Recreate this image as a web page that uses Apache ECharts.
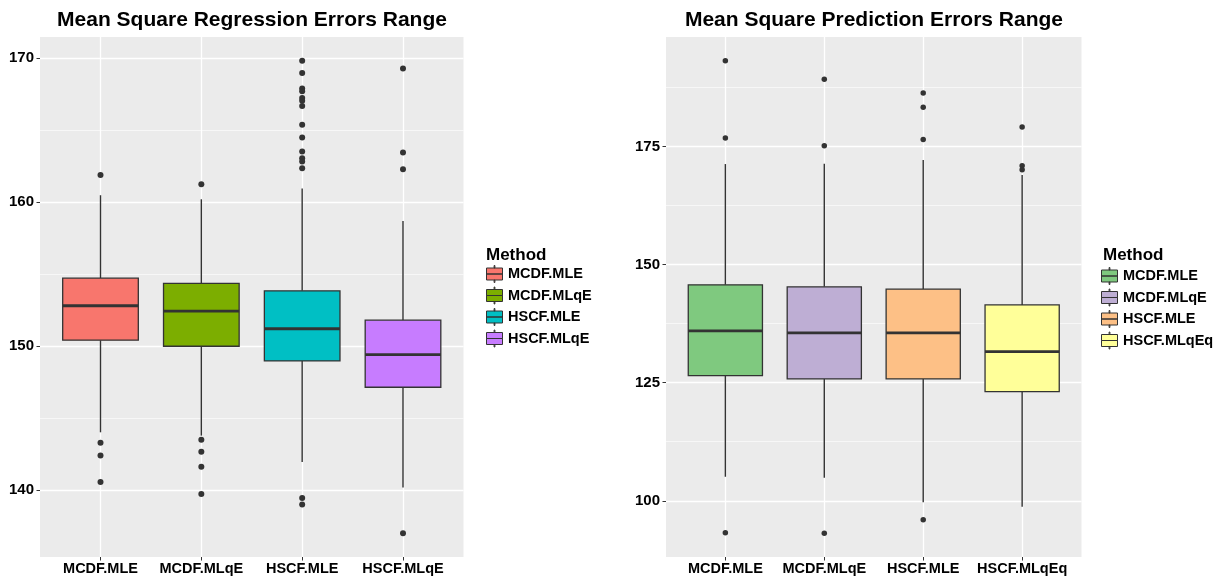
<!DOCTYPE html>
<html>
<head>
<meta charset="utf-8">
<script src="https://cdn.jsdelivr.net/npm/echarts@6/dist/echarts.min.js"></script>
<style>
  html, body { margin: 0; padding: 0; background: #ffffff; }
  #chart { width: 1230px; height: 577px; }
</style>
</head>
<body>
<div id="chart"></div>
<script>
// ---- Regression errors (left panel) ----
const regMethods = ['MCDF.MLE', 'MCDF.MLqE', 'HSCF.MLE', 'HSCF.MLqE'];
const regColors = ['#F8766D', '#7CAE00', '#00BFC4', '#C77CFF'];
// [lower whisker, Q1, median, Q3, upper whisker]
const regBoxes = [
  [144.02, 150.42, 152.81, 154.73, 160.49],
  [143.79, 150.00, 152.44, 154.36, 160.21],
  [141.96, 148.98, 151.21, 153.85, 160.95],
  [140.19, 147.15, 149.42, 151.81, 158.70]
];
const regOutliers = [
  [161.90, 143.30, 142.41, 140.56],
  [161.25, 143.51, 142.67, 141.63, 139.73],
  [169.84, 168.98, 167.91, 167.72, 167.25, 167.05, 166.68, 165.38, 164.50,
   163.53, 163.06, 162.83, 162.37, 139.45, 139.00],
  [169.30, 163.46, 162.30, 137.00]
];
const regTicks = [140, 150, 160, 170];
const regMinorTicks = [145, 155, 165];

// ---- Prediction errors (right panel) ----
const predMethods = ['MCDF.MLE', 'MCDF.MLqE', 'HSCF.MLE', 'HSCF.MLqEq'];
const predColors = ['#7FC97F', '#BEAED4', '#FDC086', '#FFFF99'];
const predBoxes = [
  [105.08, 126.48, 135.95, 145.70, 171.27],
  [104.87, 125.78, 135.53, 145.28, 171.33],
  [ 99.66, 125.78, 135.53, 144.79, 172.11],
  [ 98.73, 123.10, 131.57, 141.46, 168.94]
];
const predOutliers = [
  [193.16, 176.78, 93.22],
  [189.20, 175.15, 93.10],
  [186.30, 183.27, 176.49, 96.00],
  [179.10, 170.90, 170.06]
];
const predTicks = [100, 125, 150, 175];
const predMinorTicks = [112.5, 137.5, 162.5, 187.5];

const FONT = 'Liberation Sans';
const INK = '#333333';
const BOX_WIDTH = 0.75;     // in category units
const X_PAD = 0.6;          // discrete axis expansion on each side

function renderBox(params, api) {
  const x = api.value(0);
  const pts = [1, 2, 3, 4, 5].map(function (i) { return api.coord([x, api.value(i)]); });
  const cx = pts[0][0];
  const half = api.size([BOX_WIDTH, 0])[0] / 2;
  const yMin = pts[0][1], yQ1 = pts[1][1], yMed = pts[2][1], yQ3 = pts[3][1], yMax = pts[4][1];
  return {
    type: 'group',
    children: [
      { type: 'line', shape: { x1: cx, y1: yMax, x2: cx, y2: yQ3 }, style: { stroke: INK, lineWidth: 1.4 } },
      { type: 'line', shape: { x1: cx, y1: yQ1, x2: cx, y2: yMin }, style: { stroke: INK, lineWidth: 1.4 } },
      { type: 'rect', shape: { x: cx - half, y: yQ3, width: 2 * half, height: yQ1 - yQ3 },
        style: { fill: api.visual('color'), stroke: INK, lineWidth: 1.3 } },
      { type: 'line', shape: { x1: cx - half, y1: yMed, x2: cx + half, y2: yMed }, style: { stroke: INK, lineWidth: 2.9 } }
    ]
  };
}

const legendIcon = 'path://M8.1,0 L8.9,0 L8.9,2.5 L8.1,2.5 Z M0.5,2.5 L16.5,2.5 L16.5,8.5 L0.5,8.5 Z M0.5,8.5 L16.5,8.5 L16.5,14.5 L0.5,14.5 Z M8.1,14.5 L8.9,14.5 L8.9,17 L8.1,17 Z';

function panel(idx, methods, colors, boxes, outliers, ticks, minorTicks) {
  let lo = Infinity, hi = -Infinity;
  boxes.concat(outliers).forEach(function (arr) {
    arr.forEach(function (v) { lo = Math.min(lo, v); hi = Math.max(hi, v); });
  });
  const pad = (hi - lo) * 0.05;
  const cats = methods.map(function (_, i) { return i + 1; });

  const xAxis = {
    type: 'value', gridIndex: idx, min: 1 - X_PAD, max: methods.length + X_PAD,
    axisLine: { show: false },
    splitLine: { show: false },
    axisTick: { show: true, customValues: cats, length: 3.5, lineStyle: { color: INK, width: 1 } },
    axisLabel: {
      customValues: cats, margin: 4,
      formatter: function (v) { return methods[Math.round(v) - 1] || ''; },
      fontFamily: FONT, fontWeight: 'bold', fontSize: 14.5, color: '#000'
    }
  };
  const yAxis = {
    type: 'value', gridIndex: idx, min: lo - pad, max: hi + pad,
    axisLine: { show: false },
    splitLine: { show: false },
    axisTick: { show: true, customValues: ticks, length: 3.5, lineStyle: { color: INK, width: 1 } },
    axisLabel: {
      customValues: ticks, margin: 6,
      fontFamily: FONT, fontWeight: 'bold', fontSize: 15, color: '#000'
    }
  };

  const gridLines = [];
  minorTicks.forEach(function (v) { gridLines.push({ yAxis: v, lineStyle: { color: '#ffffff', width: 0.6, type: 'solid' } }); });
  ticks.forEach(function (v) { gridLines.push({ yAxis: v, lineStyle: { color: '#ffffff', width: 1.3, type: 'solid' } }); });
  cats.forEach(function (v) { gridLines.push({ xAxis: v, lineStyle: { color: '#ffffff', width: 1.3, type: 'solid' } }); });

  const series = [{
    type: 'line', name: '_grid' + idx, xAxisIndex: idx, yAxisIndex: idx, data: [], z: 1, silent: true,
    markLine: { z: 1, zlevel: 0, silent: true, symbol: ['none', 'none'], label: { show: false }, animation: false, data: gridLines }
  }];
  methods.forEach(function (m, i) {
    series.push({
      type: 'custom', name: m, xAxisIndex: idx, yAxisIndex: idx, z: 3, silent: true,
      itemStyle: { color: colors[i] },
      encode: { x: 0, y: [1, 2, 3, 4, 5] },
      data: [[i + 1].concat(boxes[i])],
      renderItem: renderBox
    });
  });
  const pts = [];
  outliers.forEach(function (arr, i) { arr.forEach(function (v) { pts.push([i + 1, v]); }); });
  series.push({
    type: 'scatter', name: '_outliers' + idx, xAxisIndex: idx, yAxisIndex: idx, z: 4, silent: true,
    symbol: 'circle', symbolSize: idx === 0 ? 6 : 5.5,
    itemStyle: { color: INK, opacity: 1 },
    data: pts
  });

  const legendData = methods.map(function (m, i) {
    return { name: m, icon: legendIcon, itemStyle: { color: colors[i], borderColor: INK, borderWidth: 1 } };
  });

  return { xAxis: xAxis, yAxis: yAxis, series: series, legendData: legendData };
}

const left = panel(0, regMethods, regColors, regBoxes, regOutliers, regTicks, regMinorTicks);
const right = panel(1, predMethods, predColors, predBoxes, predOutliers, predTicks, predMinorTicks);

const titleStyle = { fontFamily: FONT, fontWeight: 'bold', fontSize: 21, color: '#000' };
const legendTitleStyle = { fontFamily: FONT, fontWeight: 'bold', fontSize: 17, color: '#000' };
const legendText = { fontFamily: FONT, fontWeight: 'bold', fontSize: 14.5, color: '#000' };

const option = {
  animation: false,
  backgroundColor: '#ffffff',
  title: [
    { text: 'Mean Square Regression Errors Range', left: 252, top: 10, textAlign: 'center', textStyle: titleStyle, padding: 0 },
    { text: 'Mean Square Prediction Errors Range', left: 874, top: 10, textAlign: 'center', textStyle: titleStyle, padding: 0 },
    { text: 'Method', left: 486, top: 247, textStyle: legendTitleStyle, padding: 0 },
    { text: 'Method', left: 1103, top: 247, textStyle: legendTitleStyle, padding: 0 }
  ],
  grid: [
    { left: 40, right: 766.5, top: 37, bottom: 20, show: true, backgroundColor: '#EBEBEB', borderWidth: 0, containLabel: false },
    { left: 666, right: 148.5, top: 37, bottom: 20, show: true, backgroundColor: '#EBEBEB', borderWidth: 0, containLabel: false }
  ],
  legend: [
    { orient: 'vertical', left: 486, top: 265, itemWidth: 17, itemHeight: 17, itemGap: 3.5, padding: 0,
      selectedMode: false, textStyle: legendText, data: left.legendData },
    { orient: 'vertical', left: 1101, top: 267, itemWidth: 17, itemHeight: 17, itemGap: 3.5, padding: 0,
      selectedMode: false, textStyle: legendText, data: right.legendData }
  ],
  xAxis: [left.xAxis, right.xAxis],
  yAxis: [left.yAxis, right.yAxis],
  series: left.series.concat(right.series)
};

const chart = echarts.init(document.getElementById('chart'), null, { renderer: 'canvas' });
chart.setOption(option);
</script>
</body>
</html>
